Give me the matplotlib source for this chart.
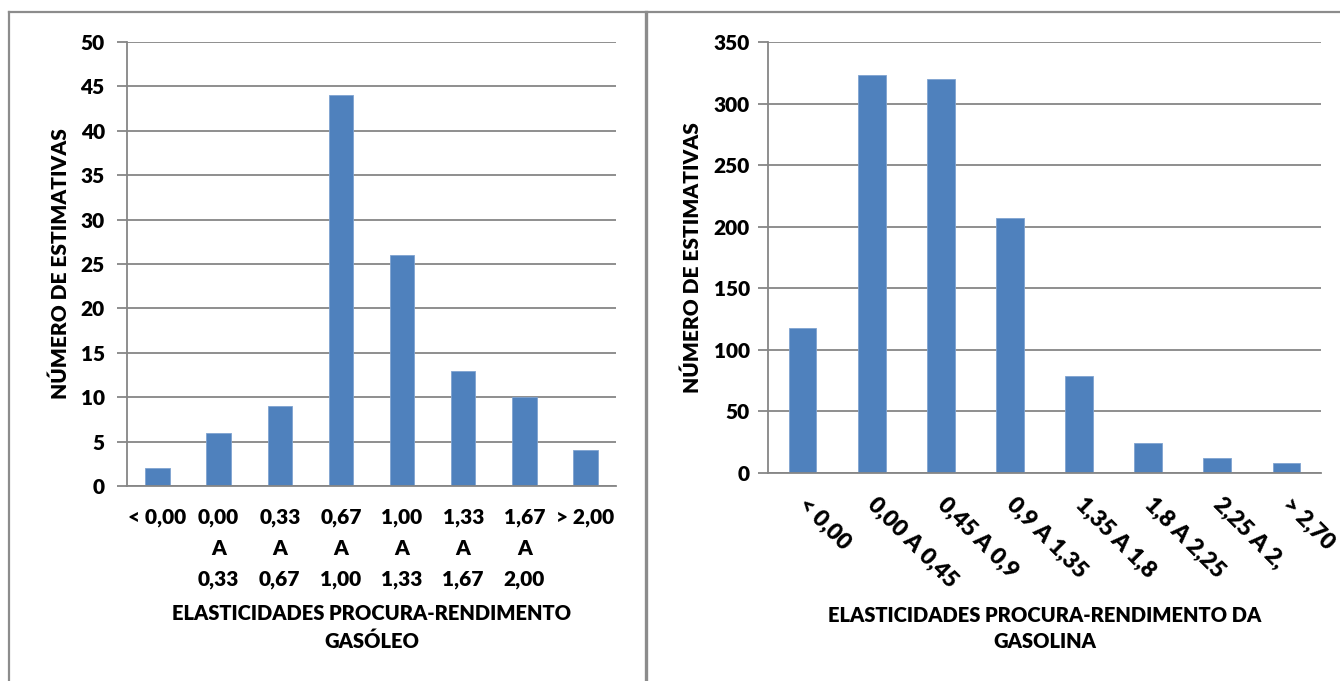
import numpy as np
import matplotlib.pyplot as plt
from matplotlib.lines import Line2D
import matplotlib.transforms as mtransforms

plt.rcParams['font.family'] = ['Lato', 'DejaVu Sans']
plt.rcParams['font.weight'] = 800
plt.rcParams['axes.labelweight'] = 800

# diesel (gasóleo) income elasticities
gasoleo_labels = ['< 0,00', '0,00\nA\n0,33', '0,33\nA\n0,67', '0,67\nA\n1,00',
                  '1,00\nA\n1,33', '1,33\nA\n1,67', '1,67\nA\n2,00', '> 2,00']
gasoleo_counts = [2, 6, 9, 44, 26, 13, 10, 4]

# gasoline income elasticities
gasolina_labels = ['< 0,00', '0,00 A 0,45', '0,45 A 0,9', '0,9 A 1,35',
                   '1,35 A 1,8', '1,8 A 2,25', '2,25 A 2,', '> 2,70']
gasolina_counts = [118, 323, 320, 207, 79, 24, 12, 8]

BAR = '#4F81BD'
GRID = '#868686'
FS = 15
W, H = 1340, 681

fig = plt.figure(figsize=(W / 100, H / 100), dpi=100)


def fx(px):
    return px / W


def fy(py):
    return 1 - py / H


def style_axes(ax, ymax, step, pad):
    ax.set_ylim(0, ymax)
    ax.set_yticks(np.arange(0, ymax + 1, step))
    ax.yaxis.grid(True, color=GRID, linewidth=1.3)
    ax.set_axisbelow(True)
    for s in ['top', 'right']:
        ax.spines[s].set_visible(False)
    for s in ['left', 'bottom']:
        ax.spines[s].set_color(GRID)
        ax.spines[s].set_linewidth(1.3)
    ax.tick_params(axis='y', length=7, width=1.3, color=GRID, labelsize=FS, pad=pad)
    ax.tick_params(axis='x', length=0, labelsize=FS)
    for lbl in ax.get_yticklabels():
        lbl.set_fontweight(800)
    ax.set_ylabel('NÚMERO DE ESTIMATIVAS', fontsize=FS, fontweight=800)


# left chart
ax1 = fig.add_axes([fx(127), fy(486), fx(616 - 127), fy(42) - fy(486)])
x1 = np.arange(len(gasoleo_counts))
ax1.bar(x1, gasoleo_counts, width=0.4, color=BAR, edgecolor='#7fa3d0', linewidth=0.6)
ax1.set_xlim(-0.5, len(x1) - 0.5)
style_axes(ax1, 50, 5, 9)
ax1.set_xticks(x1)
ax1.set_xticklabels(gasoleo_labels, linespacing=1.72, fontweight=800)
ax1.tick_params(axis='x', pad=16)
ax1.set_xlabel('ELASTICIDADES PROCURA-RENDIMENTO\nGASÓLEO', fontsize=14.5,
               fontweight=800, linespacing=1.5, labelpad=11)
ax1.yaxis.set_label_coords(-0.117, 0.5)

# right chart
ax2 = fig.add_axes([fx(768), fy(473), fx(1321 - 768), fy(42) - fy(473)])
x2 = np.arange(len(gasolina_counts))
ax2.bar(x2, gasolina_counts, width=0.4, color=BAR, edgecolor='#7fa3d0', linewidth=0.6)
ax2.set_xlim(-0.5, len(x2) - 0.5)
style_axes(ax2, 350, 50, 6)
ax2.set_xticks(x2)
ax2.set_xticklabels(gasolina_labels, rotation=-45, ha='left', va='top',
                    rotation_mode='anchor', fontweight=800, fontsize=16.5)
shift = mtransforms.ScaledTranslation(7 / 100, -16 / 100, fig.dpi_scale_trans)
for lbl in ax2.get_xticklabels():
    lbl.set_transform(lbl.get_transform() + shift)
ax2.set_xlabel('ELASTICIDADES PROCURA-RENDIMENTO DA\nGASOLINA', fontsize=14.5,
               fontweight=800, linespacing=1.45, labelpad=10)
ax2.yaxis.set_label_coords(-0.119, 0.5)

# chart frames
border = dict(color='#8c8c8c', linewidth=1.6, transform=fig.transFigure)
fig.add_artist(Line2D([fx(9), fx(9)], [0, fy(12)], **border))
fig.add_artist(Line2D([fx(9), 1], [fy(12), fy(12)], **border))
fig.add_artist(Line2D([fx(646), fx(646)], [0, fy(12)], linewidth=2.4,
                      color='#8c8c8c', transform=fig.transFigure))

fig.savefig('out.png', dpi=100)
